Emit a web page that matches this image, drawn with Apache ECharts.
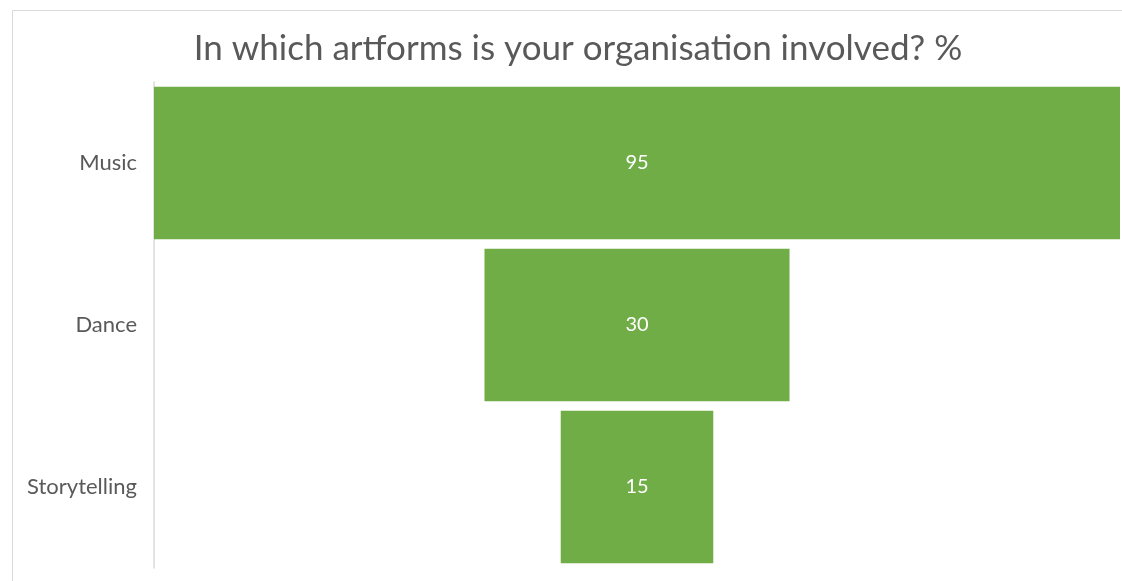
<!DOCTYPE html>
<html>
<head>
<meta charset="utf-8">
<title>Artforms funnel</title>
<script src="https://cdn.jsdelivr.net/npm/echarts@6/dist/echarts.min.js"></script>
<style>
  html, body { margin: 0; padding: 0; background: #fff; }
  #chart { width: 1122px; height: 581px; }
</style>
</head>
<body>
<div id="chart"></div>
<script>
var categories = ['Music', 'Dance', 'Storytelling'];
var values = [95, 30, 15];
var maxValue = 95;

// invisible spacer so each bar sits centred (funnel look)
var offsets = values.map(function (v) { return (maxValue - v) / 2; });

var myChart = echarts.init(document.getElementById('chart'));
var option = {
    animation: false,
    title: {
        text: 'In which artforms is your organisation involved? %',
        left: 573,
        textAlign: 'center',
        top: 26,
        textStyle: { fontFamily: 'Lato', fontWeight: 'normal', fontSize: 35, color: '#595959' }
    },
    graphic: [{
        type: 'rect',
        shape: { x: 12.5, y: 10.5, width: 1200, height: 700 },
        style: { fill: 'none', stroke: '#d9d9d9', lineWidth: 1 },
        silent: true
    }],
    grid: { left: 154, right: 2, top: 82, bottom: 13 },
    xAxis: {
        type: 'value',
        min: 0,
        max: maxValue,
        show: false
    },
    yAxis: {
        type: 'category',
        data: categories,
        inverse: true,
        axisLine: { show: true, lineStyle: { color: '#d9d9d9', width: 1.5 } },
        axisTick: { show: false },
        axisLabel: { margin: 17, fontFamily: 'Lato', fontSize: 22, color: '#595959' }
    },
    series: [
        {
            type: 'bar',
            stack: 'f',
            data: offsets,
            itemStyle: { color: 'transparent' },
            barCategoryGap: '6%',
            silent: true
        },
        {
            type: 'bar',
            stack: 'f',
            data: values,
            barCategoryGap: '6%',
            itemStyle: { color: '#70ad47' },
            label: {
                show: true,
                position: 'inside',
                color: '#fff',
                fontFamily: 'Lato',
                fontSize: 20
            }
        }
    ]
};
myChart.setOption(option);
</script>
</body>
</html>
